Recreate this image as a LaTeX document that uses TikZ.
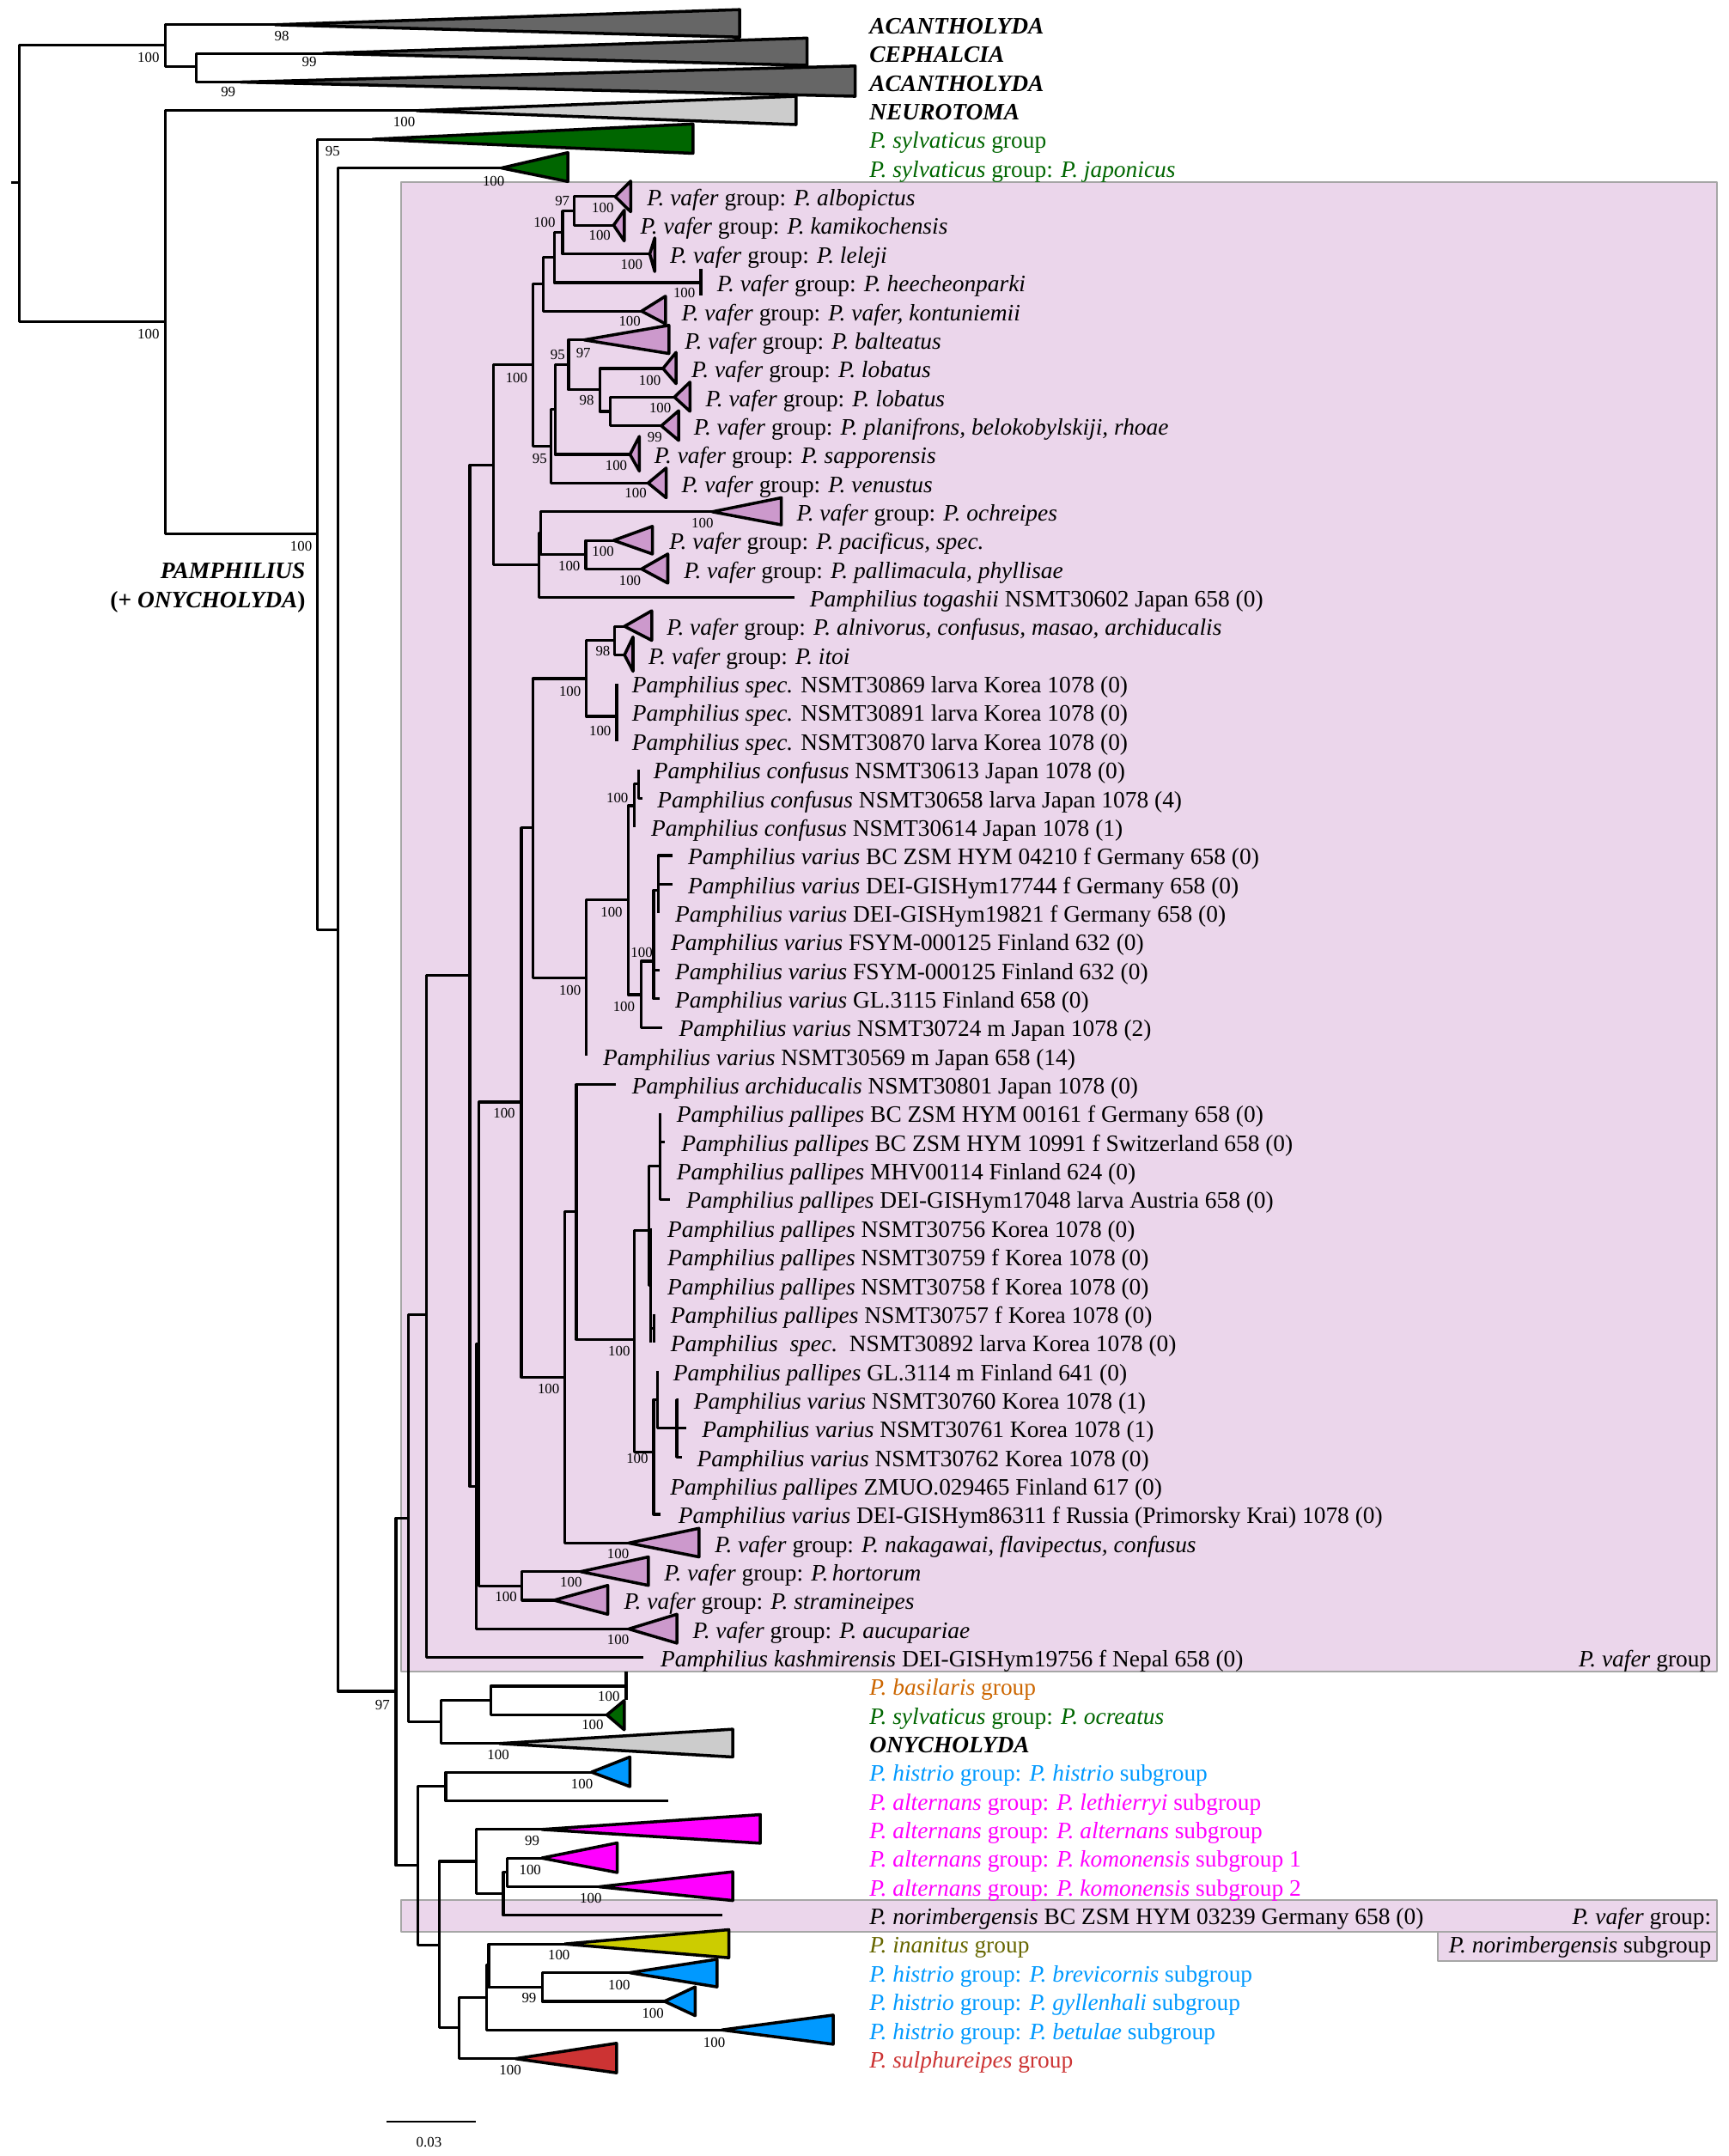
\documentclass[tikz,border=0pt]{standalone}
\usepackage{fontspec}
\setmainfont{Liberation Serif}
\usetikzlibrary{calc}
\definecolor{cladedark}{HTML}{666666}
\definecolor{cladelight}{HTML}{CCCCCC}
\definecolor{sylvgreen}{HTML}{006600}
\definecolor{vaferpink}{HTML}{CC99CC}
\definecolor{vaferbox}{HTML}{EBD6EB}
\definecolor{boxline}{HTML}{A6A6A6}
\definecolor{histblue}{HTML}{0099FF}
\definecolor{altmag}{HTML}{FF00FF}
\definecolor{inanolive}{HTML}{CCCC00}
\definecolor{inantext}{HTML}{666600}
\definecolor{sulred}{HTML}{CC3333}
\definecolor{basorange}{HTML}{CC6600}
% collapsed clade: apex x, apex y, right x, top y, bottom y, fill
\newcommand{\collapsed}[6]{\draw[clade, fill=#6] (#1,#2) -- (#3,#4) -- (#3,#5) -- cycle;}

\begin{document}
\begin{tikzpicture}[x=0.016cm, y=-0.016cm, line join=round,
  branch/.style={line width=0.9pt},
  clade/.style={line width=1pt},
  bs/.style={inner sep=0pt, font=\fontsize{4.8}{5}\selectfont},
  taxon/.style={anchor=mid west, inner sep=0pt, yshift=-0.77pt, font=\fontsize{7.8}{9}\selectfont},
  rtaxon/.style={taxon, anchor=mid east},
  shade/.style={fill=vaferbox, draw=boxline, line width=0.6pt}]
\useasboundingbox (0,0) rectangle (1257,1568);

% shaded groups
\filldraw[shade] (292,132.7) rectangle (1249,1215.5);
\filldraw[shade] (292,1382) rectangle (1249,1405);
\filldraw[shade] (1046,1405) rectangle (1249,1426);

% outgroups
\draw[branch] (8,133) -- (14,133);
\draw[branch] (120,33) -- (14,33) -- (14,234) -- (120,234);
\draw[branch] (200,18) -- (120,18) -- (120,48.5) -- (143,48.5);
\draw[branch] (235,38.8) -- (143,38.8) -- (143,59.7) -- (175,59.7);
\draw[branch] (303,80.5) -- (120,80.5) -- (120,388) -- (231,388);
\draw[branch] (271,101.3) -- (231,101.3) -- (231,676) -- (246,676);
\draw[branch] (364.7,122.2) -- (246,122.2) -- (246,1230) -- (288,1230);
\draw[branch] (296.9,1104) -- (288,1104) -- (288,1356.7) -- (304.1,1356.7);
\draw[branch] (310,956) -- (296.9,956) -- (296.9,1252.3) -- (320.6,1252.3);

% P. vafer group
\draw[branch] (341.7,709.4) -- (310,709.4) -- (310,1205.5) -- (467.7,1205.5);
\draw[branch] (359,338.2) -- (341.7,338.2) -- (341.7,1081) -- (346.5,1081);
\draw[branch] (387.7,265.2) -- (359,265.2) -- (359,410.7) -- (392,410.7);
\draw[branch] (395.3,206.7) -- (387.7,206.7) -- (387.7,324.6) -- (400.8,324.6);
\draw[branch] (403.2,187.1) -- (395.3,187.1) -- (395.3,226.3) -- (466.6,226.3);
\draw[branch] (409.2,168.8) -- (403.2,168.8) -- (403.2,205.5) -- (509.7,205.5);
\draw[branch] (509.7,195.5) -- (509.7,215);
\draw[branch] (417.6,153.4) -- (409.2,153.4) -- (409.2,184.7) -- (472.6,184.7);
\draw[branch] (447.5,143) -- (417.6,143) -- (417.6,163.8) -- (446.3,163.8);
\draw[branch] (403.7,297.9) -- (400.8,297.9) -- (400.8,351.3) -- (471.4,351.3);
\draw[branch] (413.5,265.3) -- (403.7,265.3) -- (403.7,330.5) -- (458.2,330.5);
\draw[branch] (424.8,247.2) -- (413.5,247.2) -- (413.5,283.5) -- (436.2,283.5);
\draw[branch] (482.2,268) -- (436.2,268) -- (436.2,299.2) -- (443.9,299.2);
\draw[branch] (490.5,288.8) -- (443.9,288.8) -- (443.9,309.7) -- (481,309.7);
\draw[branch] (393.5,387.8) -- (392,387.8) -- (392,434.7) -- (577.8,434.7);
\draw[branch] (518,372.2) -- (393.5,372.2) -- (393.5,403.4) -- (426,403.4);
\draw[branch] (446.3,393) -- (426,393) -- (426,413.8) -- (466.6,413.8);
\draw[branch] (348.5,977.4) -- (346.5,977.4) -- (346.5,1184.7) -- (457.3,1184.7);
\draw[branch] (379.2,801.5) -- (348.5,801.5) -- (348.5,1153.3) -- (379.6,1153.3);
\draw[branch] (422.3,1143) -- (379.6,1143) -- (379.6,1163.8) -- (402.9,1163.8);
\draw[branch] (387.5,602) -- (379.2,602) -- (379.2,1001.5) -- (410.9,1001.5);
\draw[branch] (426.5,493.5) -- (387.5,493.5) -- (387.5,711) -- (426.5,711);
\draw[branch] (446.9,465.9) -- (426.5,465.9) -- (426.5,521) -- (448.5,521);
\draw[branch] (454.2,455.5) -- (446.9,455.5) -- (446.9,476.3) -- (454.2,476.3);
\draw[branch] (448.5,497.2) -- (448.5,538.8);
\draw[branch] (456.9,654.3) -- (426.5,654.3) -- (426.5,768);
\draw[branch] (461.5,586) -- (456.9,586) -- (456.9,723.4) -- (466.3,723.4);
\draw[branch] (464.2,570) -- (461.5,570) -- (461.5,601.3);
\draw[branch] (464.2,559.7) -- (464.2,580.5) -- (467,580.5);
\draw[branch] (475.4,699) -- (466.3,699) -- (466.3,747.2) -- (481.9,747.2);
\draw[branch] (478.8,647.5) -- (475.4,647.5) -- (475.4,726.3) -- (479.5,726.3);
\draw[branch] (475.4,705.5) -- (479.5,705.5);
\draw[branch] (489.2,622.2) -- (478.8,622.2) -- (478.8,663.8);
\draw[branch] (478.8,643) -- (489.2,643);
\draw[branch] (419.2,881) -- (410.9,881) -- (410.9,1122.2) -- (457.3,1122.2);
\draw[branch] (448,788.8) -- (419.2,788.8) -- (419.2,974.2) -- (461.1,974.2);
\draw[branch] (471.9,895) -- (461.1,895) -- (461.1,1056) -- (475.4,1056);
\draw[branch] (480.2,847.9) -- (471.9,847.9) -- (471.9,934.7) -- (473,934.7);
\draw[branch] (473,893) -- (473,976.3);
\draw[branch] (473,965.9) -- (475.5,965.9);
\draw[branch] (475.5,955.5) -- (475.5,976.3);
\draw[branch] (480.2,809.7) -- (480.2,872.2) -- (487,872.2);
\draw[branch] (480.2,830.5) -- (483.8,830.5);
\draw[branch] (478,1017.9) -- (475.4,1017.9) -- (475.4,1101.3) -- (480.6,1101.3);
\draw[branch] (478,997.2) -- (478,1038.8) -- (492.3,1038.8);
\draw[branch] (493.4,1018) -- (492.3,1018) -- (492.3,1059.7) -- (495.7,1059.7);
\draw[branch] (492.3,1038.8) -- (499.3,1038.8);

% basal Pamphilius groups
\draw[branch] (356.9,1236.7) -- (320.6,1236.7) -- (320.6,1268) -- (363.3,1268);
\draw[branch] (455.4,1226.3) -- (356.9,1226.3) -- (356.9,1247.2) -- (441.4,1247.2);
\draw[branch] (455.4,1215.5) -- (455.4,1236.5);
\draw[branch] (324.2,1299) -- (304.1,1299) -- (304.1,1414.4) -- (319.5,1414.4);
\draw[branch] (430.2,1288.8) -- (324.2,1288.8) -- (324.2,1309.7) -- (486,1309.7);
\draw[branch] (346.5,1353.7) -- (319.5,1353.7) -- (319.5,1474.7) -- (334,1474.7);
\draw[branch] (394,1330.5) -- (346.5,1330.5) -- (346.5,1377.2) -- (366.1,1377.2);
\draw[branch] (368.9,1361.7) -- (366.1,1361.7) -- (366.1,1393) -- (525.1,1393);
\draw[branch] (394,1351.3) -- (368.9,1351.3) -- (368.9,1372.2) -- (435.8,1372.2);
\draw[branch] (354.1,1452.5) -- (334,1452.5) -- (334,1497.2) -- (375,1497.2);
\draw[branch] (355.5,1429.1) -- (354.1,1429.1) -- (354.1,1476.3) -- (525.1,1476.3);
\draw[branch] (410.7,1413.8) -- (355.5,1413.8) -- (355.5,1445.1) -- (394.5,1445.1);
\draw[branch] (458.1,1434.7) -- (394.5,1434.7) -- (394.5,1455.5) -- (483.3,1455.5);

% collapsed clades
\collapsed{200}{18}{538}{7}{27}{cladedark}
\collapsed{235}{38.8}{587}{27.7}{47.5}{cladedark}
\collapsed{175}{59.7}{622}{48}{70}{cladedark}
\collapsed{303}{80.5}{579}{70}{90.6}{cladelight}
\collapsed{271}{101.3}{504}{90.2}{111.5}{sylvgreen}
\collapsed{364.7}{122.2}{413}{111}{132}{sylvgreen}
\collapsed{447.5}{143}{458.7}{131.7}{154}{vaferpink}
\collapsed{446.3}{163.8}{454}{152.9}{175.2}{vaferpink}
\collapsed{472.6}{184.7}{476.2}{173}{197.5}{vaferpink}
\collapsed{466.6}{226.3}{484}{215.4}{235.5}{vaferpink}
\collapsed{424.8}{247.2}{486.5}{236.6}{257.1}{vaferpink}
\collapsed{482.2}{268}{491.7}{256.3}{279}{vaferpink}
\collapsed{490.5}{288.8}{501.8}{277.9}{299.1}{vaferpink}
\collapsed{481}{309.7}{493.6}{298.7}{320.3}{vaferpink}
\collapsed{458.2}{330.5}{465}{317.4}{342.6}{vaferpink}
\collapsed{471.4}{351.3}{484.5}{340.4}{362}{vaferpink}
\collapsed{518}{372.2}{568.3}{362}{381.7}{vaferpink}
\collapsed{446.3}{393}{474.5}{382.8}{402.9}{vaferpink}
\collapsed{466.6}{413.8}{485.7}{402.9}{424.1}{vaferpink}
\collapsed{454.2}{455.5}{474}{444.2}{465.7}{vaferpink}
\collapsed{454.2}{476.3}{460.4}{463.3}{488.2}{vaferpink}
\collapsed{457.3}{1122.2}{508.4}{1111.5}{1132.3}{vaferpink}
\collapsed{422.3}{1143}{471.6}{1132.3}{1153}{vaferpink}
\collapsed{402.9}{1163.8}{442}{1153}{1174}{vaferpink}
\collapsed{457.3}{1184.7}{492.3}{1174}{1195}{vaferpink}
\collapsed{441.4}{1247.2}{454}{1236.8}{1258}{sylvgreen}
\collapsed{363.3}{1268}{532.9}{1257.6}{1277.8}{cladelight}
\collapsed{430.2}{1288.8}{458.1}{1277.8}{1299.3}{histblue}
\collapsed{394}{1330.5}{553}{1319.7}{1340.5}{altmag}
\collapsed{394}{1351.3}{448.9}{1340.3}{1361.8}{altmag}
\collapsed{435.8}{1372.2}{532.9}{1361.3}{1382.2}{altmag}
\collapsed{410.7}{1413.8}{530.1}{1403.4}{1423.8}{inanolive}
\collapsed{458.1}{1434.7}{521.5}{1424.9}{1445}{histblue}
\collapsed{483.3}{1455.5}{505.6}{1445}{1465.9}{histblue}
\collapsed{525.1}{1476.3}{606}{1465.5}{1486.7}{histblue}
\collapsed{375}{1497.2}{448.4}{1486}{1507.5}{sulred}

% support values
\node[bs] at (108,42) {100};
\node[bs] at (205,26) {98};
\node[bs] at (225,45) {99};
\node[bs] at (166,67) {99};
\node[bs] at (294,89) {100};
\node[bs] at (108,243) {100};
\node[bs] at (242,110) {95};
\node[bs] at (359,132) {100};
\node[bs] at (219,397) {100};
\node[bs] at (409,146) {97};
\node[bs] at (396,162) {100};
\node[bs] at (438.4,151.3) {100};
\node[bs] at (436.2,171.4) {100};
\node[bs] at (459.4,192.6) {100};
\node[bs] at (497.7,213.2) {100};
\node[bs] at (458,233.7) {100};
\node[bs] at (424.3,256.7) {97};
\node[bs] at (405.6,258.3) {95};
\node[bs] at (375.7,274.6) {100};
\node[bs] at (426.7,291.3) {98};
\node[bs] at (472.6,276.8) {100};
\node[bs] at (480.2,296.9) {100};
\node[bs] at (476.2,318.1) {99};
\node[bs] at (392.5,333.3) {95};
\node[bs] at (448.2,338.6) {100};
\node[bs] at (462.3,358.7) {100};
\node[bs] at (510.9,380.6) {100};
\node[bs] at (414,411.8) {100};
\node[bs] at (438.6,401.1) {100};
\node[bs] at (458.2,422.5) {100};
\node[bs] at (438.5,473.4) {98};
\node[bs] at (414.6,502.6) {100};
\node[bs] at (436.5,531.5) {100};
\node[bs] at (449,580.3) {100};
\node[bs] at (444.8,663.5) {100};
\node[bs] at (466.7,693) {100};
\node[bs] at (453.8,732.2) {100};
\node[bs] at (414.6,720.4) {100};
\node[bs] at (366.7,809.4) {100};
\node[bs] at (399,1010) {100};
\node[bs] at (450.3,982.6) {100};
\node[bs] at (463.5,1060.8) {100};
\node[bs] at (449.5,1130) {100};
\node[bs] at (415.3,1150.6) {100};
\node[bs] at (368,1161.5) {100};
\node[bs] at (449.5,1192.7) {100};
\node[bs] at (278.2,1240.1) {97};
\node[bs] at (442.8,1233.5) {100};
\node[bs] at (431,1254.4) {100};
\node[bs] at (362.4,1276.3) {100};
\node[bs] at (423.3,1297.5) {100};
\node[bs] at (387,1338.7) {99};
\node[bs] at (385.6,1360) {100};
\node[bs] at (429.7,1380.4) {100};
\node[bs] at (406.5,1422) {100};
\node[bs] at (384.8,1453.2) {99};
\node[bs] at (450.3,1443.5) {100};
\node[bs] at (474.9,1464.1) {100};
\node[bs] at (519.5,1485.2) {100};
\node[bs] at (371.1,1505.8) {100};

% taxa
\node[taxon] (t0) at (632,18) {\textbf{\textit{ACANTHOLYDA}}};
\node[taxon] (t1) at (632,38.8) {\textbf{\textit{CEPHALCIA}}};
\node[taxon] (t2) at (632,59.7) {\textbf{\textit{ACANTHOLYDA}}};
\node[taxon] (t3) at (632,80.5) {\textbf{\textit{NEUROTOMA}}};
\node[taxon, text=sylvgreen] (t4) at (632,101.3) {\textit{P. sylvaticus} group};
\node[taxon, text=sylvgreen] (t5) at (632,122.2) {\textit{P. sylvaticus} group: \textit{P. japonicus}};
\node[taxon] (t6) at (470.2,143) {\textit{P. vafer} group: \textit{P. albopictus}};
\node[taxon] (t7) at (465.4,163.8) {\textit{P. vafer} group: \textit{P. kamikochensis}};
\node[taxon] (t8) at (486.9,184.7) {\textit{P. vafer} group: \textit{P. leleji}};
\node[taxon] (t9) at (521.1,205.5) {\textit{P. vafer} group: \textit{P. heecheonparki}};
\node[taxon] (t10) at (495.3,226.3) {\textit{P. vafer} group: \textit{P. vafer, kontuniemii}};
\node[taxon] (t11) at (497.7,247.2) {\textit{P. vafer} group: \textit{P. balteatus}};
\node[taxon] (t12) at (502.5,268) {\textit{P. vafer} group: \textit{P. lobatus}};
\node[taxon] (t13) at (512.8,288.8) {\textit{P. vafer} group: \textit{P. lobatus}};
\node[taxon] (t14) at (504.2,309.7) {\textit{P. vafer} group: \textit{P. planifrons, belokobylskiji, rhoae}};
\node[taxon] (t15) at (475.5,330.5) {\textit{P. vafer} group: \textit{P. sapporensis}};
\node[taxon] (t16) at (495.3,351.3) {\textit{P. vafer} group: \textit{P. venustus}};
\node[taxon] (t17) at (579,372.2) {\textit{P. vafer} group: \textit{P. ochreipes}};
\node[taxon] (t18) at (486.5,393) {\textit{P. vafer} group: \textit{P. pacificus, spec.}};
\node[taxon] (t19) at (497,413.8) {\textit{P. vafer} group: \textit{P. pallimacula, phyllisae}};
\node[taxon] (t20) at (588.6,434.7) {\textit{Pamphilius togashii} NSMT30602 Japan 658 (0)};
\node[taxon] (t21) at (484.5,455.5) {\textit{P. vafer} group: \textit{P. alnivorus, confusus, masao, archiducalis}};
\node[taxon] (t22) at (471.3,476.3) {\textit{P. vafer} group: \textit{P. itoi}};
\node[taxon] (t23) at (459.3,497.2) {\textit{Pamphilius spec.} NSMT30869 larva Korea 1078 (0)};
\node[taxon] (t24) at (459.3,518) {\textit{Pamphilius spec.} NSMT30891 larva Korea 1078 (0)};
\node[taxon] (t25) at (459.3,538.8) {\textit{Pamphilius spec.} NSMT30870 larva Korea 1078 (0)};
\node[taxon] (t26) at (474.9,559.7) {\textit{Pamphilius confusus} NSMT30613 Japan 1078 (0)};
\node[taxon] (t27) at (477.7,580.5) {\textit{Pamphilius confusus} NSMT30658 larva Japan 1078 (4)};
\node[taxon] (t28) at (473.2,601.3) {\textit{Pamphilius confusus} NSMT30614 Japan 1078 (1)};
\node[taxon] (t29) at (500,622.2) {\textit{Pamphilius varius} BC ZSM HYM 04210 f Germany 658 (0)};
\node[taxon] (t30) at (500,643) {\textit{Pamphilius varius} DEI-GISHym17744 f Germany 658 (0)};
\node[taxon] (t31) at (490.6,663.8) {\textit{Pamphilius varius} DEI-GISHym19821 f Germany 658 (0)};
\node[taxon] (t32) at (487.5,684.7) {\textit{Pamphilius varius} FSYM-000125 Finland 632 (0)};
\node[taxon] (t33) at (490.6,705.5) {\textit{Pamphilius varius} FSYM-000125 Finland 632 (0)};
\node[taxon] (t34) at (490.6,726.3) {\textit{Pamphilius varius} GL.3115 Finland 658 (0)};
\node[taxon] (t35) at (493.5,747.2) {\textit{Pamphilius varius} NSMT30724 m Japan 1078 (2)};
\node[taxon] (t36) at (438.2,768) {\textit{Pamphilius varius} NSMT30569 m Japan 658 (14)};
\node[taxon] (t37) at (459.3,788.8) {\textit{Pamphilius archiducalis} NSMT30801 Japan 1078 (0)};
\node[taxon] (t38) at (491.7,809.7) {\textit{Pamphilius pallipes} BC ZSM HYM 00161 f Germany 658 (0)};
\node[taxon] (t39) at (495.1,830.5) {\textit{Pamphilius pallipes} BC ZSM HYM 10991 f Switzerland 658 (0)};
\node[taxon] (t40) at (491.7,851.3) {\textit{Pamphilius pallipes} MHV00114 Finland 624 (0)};
\node[taxon] (t41) at (498.7,872.2) {\textit{Pamphilius pallipes} DEI-GISHym17048 larva Austria 658 (0)};
\node[taxon] (t42) at (485,893) {\textit{Pamphilius pallipes} NSMT30756 Korea 1078 (0)};
\node[taxon] (t43) at (485,913.8) {\textit{Pamphilius pallipes} NSMT30759 f Korea 1078 (0)};
\node[taxon] (t44) at (485,934.7) {\textit{Pamphilius pallipes} NSMT30758 f Korea 1078 (0)};
\node[taxon] (t45) at (487.4,955.5) {\textit{Pamphilius pallipes} NSMT30757 f Korea 1078 (0)};
\node[taxon] (t46) at (487.4,976.3) {\textit{Pamphilius\ \ spec.}\ \ NSMT30892 larva Korea 1078 (0)};
\node[taxon] (t47) at (489.3,997.2) {\textit{Pamphilius pallipes} GL.3114 m Finland 641 (0)};
\node[taxon] (t48) at (504.2,1018) {\textit{Pamphilius varius} NSMT30760 Korea 1078 (1)};
\node[taxon] (t49) at (510.1,1038.8) {\textit{Pamphilius varius} NSMT30761 Korea 1078 (1)};
\node[taxon] (t50) at (506.5,1059.7) {\textit{Pamphilius varius} NSMT30762 Korea 1078 (0)};
\node[taxon] (t51) at (487,1080.5) {\textit{Pamphilius pallipes} ZMUO.029465 Finland 617 (0)};
\node[taxon] (t52) at (493,1101.3) {\textit{Pamphilius varius} DEI-GISHym86311 f Russia (Primorsky Krai) 1078 (0)};
\node[taxon] (t53) at (519.5,1122.2) {\textit{P. vafer} group: \textit{P. nakagawai, flavipectus, confusus}};
\node[taxon] (t54) at (482.7,1143) {\textit{P. vafer} group: \textit{P.\,hortorum}};
\node[taxon] (t55) at (453.4,1163.8) {\textit{P. vafer} group: \textit{P. stramineipes}};
\node[taxon] (t56) at (503.4,1184.7) {\textit{P. vafer} group: \textit{P. aucupariae}};
\node[taxon] (t57) at (480.1,1205.5) {\textit{Pamphilius kashmirensis} DEI-GISHym19756 f Nepal 658 (0)};
\node[taxon, text=basorange] (t58) at (632,1226.3) {\textit{P. basilaris} group};
\node[taxon, text=sylvgreen] (t59) at (632,1247.2) {\textit{P. sylvaticus} group: \textit{P. ocreatus}};
\node[taxon] (t60) at (632,1268) {\textbf{\textit{ONYCHOLYDA}}};
\node[taxon, text=histblue] (t61) at (632,1288.8) {\textit{P. histrio} group: \textit{P. histrio} subgroup};
\node[taxon, text=altmag] (t62) at (632,1309.7) {\textit{P. alternans} group: \textit{P. lethierryi} subgroup};
\node[taxon, text=altmag] (t63) at (632,1330.5) {\textit{P. alternans} group: \textit{P. alternans} subgroup};
\node[taxon, text=altmag] (t64) at (632,1351.3) {\textit{P. alternans} group: \textit{P. komonensis} subgroup 1};
\node[taxon, text=altmag] (t65) at (632,1372.2) {\textit{P. alternans} group: \textit{P. komonensis} subgroup 2};
\node[taxon] (t66) at (632,1393) {\textit{P. norimbergensis} BC ZSM HYM 03239 Germany 658 (0)};
\node[taxon, text=inantext] (t67) at (632,1413.8) {\textit{P. inanitus} group};
\node[taxon, text=histblue] (t68) at (632,1434.7) {\textit{P. histrio} group: \textit{P. brevicornis} subgroup};
\node[taxon, text=histblue] (t69) at (632,1455.5) {\textit{P. histrio} group: \textit{P. gyllenhali} subgroup};
\node[taxon, text=histblue] (t70) at (632,1476.3) {\textit{P. histrio} group: \textit{P. betulae} subgroup};
\node[taxon, text=sulred] (t71) at (632,1497.2) {\textit{P. sulphureipes} group};

% group names
\node[rtaxon] (vafer) at (1245,1205.5) {\textit{P. vafer} group};
\node[rtaxon] (vafer2) at (1245,1393) {\textit{P. vafer} group:};
\node[rtaxon] (norimb) at (1245,1413.8) {\textit{P. norimbergensis} subgroup};
\node[rtaxon] (pamph) at (222.5,414) {\textbf{\textit{PAMPHILIUS}}};
\node[rtaxon] (onych) at (222.5,435) {\textbf{(+ \textit{ONYCHOLYDA})}};

% scale
\draw[line width=0.6pt] (281,1543) -- (346,1543);
\node[bs] (scale) at (312,1558) {0.03};
\end{tikzpicture}
\end{document}
